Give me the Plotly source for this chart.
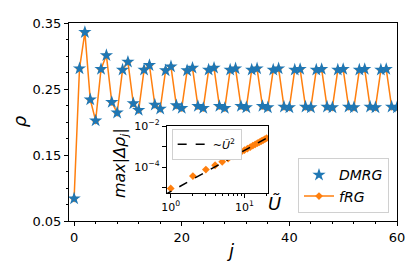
import plotly.graph_objects as go

# ---------------- data ----------------
j_sites = list(range(61))
rho_frg = [0.084, 0.281, 0.336, 0.234, 0.202, 0.280, 0.301, 0.230, 0.214, 0.279,
           0.291, 0.228, 0.218, 0.279, 0.286, 0.226, 0.220, 0.278, 0.284, 0.225,
           0.221, 0.278, 0.282, 0.224, 0.221, 0.279, 0.282, 0.224, 0.221, 0.279,
           0.281, 0.224, 0.222, 0.279, 0.281, 0.224, 0.222, 0.279, 0.281, 0.223,
           0.222, 0.279, 0.280, 0.223, 0.222, 0.279, 0.280, 0.223, 0.222, 0.279,
           0.280, 0.223, 0.222, 0.279, 0.280, 0.223, 0.222, 0.279, 0.280, 0.223,
           0.222]
rho_dmrg = [0.084, 0.281, 0.336, 0.234, 0.202, 0.280, 0.301, 0.230, 0.214, 0.279,
            0.291, 0.228, 0.218, 0.279, 0.286, 0.226, 0.220, 0.278, 0.284, 0.225,
            0.221, 0.278, 0.282, 0.224, 0.221, 0.279, 0.282, 0.224, 0.221, 0.279,
            0.281, 0.224, 0.222, 0.279, 0.281, 0.224, 0.222, 0.279, 0.281, 0.223,
            0.222, 0.279, 0.280, 0.223, 0.222, 0.279, 0.280, 0.223, 0.222, 0.279,
            0.280, 0.223, 0.222, 0.279, 0.280, 0.223, 0.222, 0.279, 0.280, 0.223,
            0.222]

U_vals = list(range(1, 21))
max_drho = [9.3e-6, 3.7e-5, 7.7e-5, 1.25e-4, 1.85e-4, 2.6e-4, 3.4e-4, 4.4e-4, 5.5e-4, 6.8e-4,
            8.1e-4, 9.6e-4, 1.12e-3, 1.3e-3, 1.48e-3, 1.68e-3, 1.89e-3, 2.1e-3, 2.35e-3, 2.6e-3]
ref_U = [0.8, 25]
ref_line = [4.2e-6, 4.1e-3]

x_ticks = [0, 20, 40, 60]
y_ticks = [0.05, 0.15, 0.25, 0.35]
y_ticktext = ["0.05", "0.15", "0.25", "0.35"]

BLUE = "#1f77b4"
ORANGE = "#ff7f0e"
FONT = "DejaVu Sans"

fig = go.Figure()

fig.add_trace(go.Scatter(
    x=j_sites, y=rho_frg, mode="lines+markers", name="<i>fRG</i>",
    line=dict(color=ORANGE, width=1.5),
    marker=dict(symbol="diamond", size=6, color=ORANGE),
    legendrank=2, xaxis="x", yaxis="y"))
fig.add_trace(go.Scatter(
    x=j_sites, y=rho_dmrg, mode="markers", name="<i>DMRG</i>",
    marker=dict(symbol="star", size=10, color=BLUE),
    legendrank=1, xaxis="x", yaxis="y"))

# inset
fig.add_trace(go.Scatter(
    x=U_vals, y=max_drho, mode="markers", showlegend=False,
    marker=dict(symbol="diamond", size=6, color=ORANGE),
    xaxis="x2", yaxis="y2"))
fig.add_trace(go.Scatter(
    x=ref_U, y=ref_line, mode="lines", name="~<i>Ũ</i><sup>2</sup>",
    line=dict(color="black", width=1.5, dash="dash"),
    legend="legend2", xaxis="x2", yaxis="y2"))

axis_common = dict(showline=True, linecolor="black", linewidth=1, mirror=True,
                   showgrid=False, zeroline=False, ticks="outside", tickcolor="black",
                   ticklen=4, tickwidth=1)

# the page body adds an 8px offset; compensate so the plot area lands at x 69-397, y 15-221
fig.update_layout(
    width=407, height=269,
    margin=dict(l=61, r=18, t=7, b=56),
    paper_bgcolor="white", plot_bgcolor="white",
    font=dict(family=FONT, size=13, color="black"),
    xaxis=dict(range=[-0.95, 60], tickvals=x_ticks, domain=[0, 1],
               minor=dict(dtick=4, tick0=0, ticks="outside", ticklen=2, tickcolor="black"),
               tickfont=dict(size=13), **axis_common),
    yaxis=dict(range=[0.05, 0.35], tickvals=y_ticks, ticktext=y_ticktext, domain=[0, 1],
               minor=dict(dtick=0.025, tick0=0.05, ticks="outside", ticklen=2, tickcolor="black"),
               tickfont=dict(size=13), **axis_common),
    xaxis2=dict(type="log", range=[-0.054, 1.324], anchor="y2", domain=[0.298, 0.6076],
                tickvals=[1, 10], ticktext=["10<sup>0</sup>", "10<sup>1</sup>"],
                minor=dict(tickmode="array", tickvals=[2, 3, 4, 5, 6, 7, 8, 9, 20],
                           ticks="outside", ticklen=2, tickcolor="black"),
                tickfont=dict(size=11), **axis_common),
    yaxis2=dict(type="log", range=[-5.25, -2.0], anchor="x2", domain=[0.142, 0.479],
                tickvals=[1e-4, 1e-2],
                ticktext=["10<sup>−4</sup>", "10<sup>−2</sup>"],
                minor=dict(tickmode="array", tickvals=[1e-5, 1e-3],
                           ticks="outside", ticklen=4, tickcolor="black"),
                tickfont=dict(size=11), **axis_common),
    legend=dict(x=0.9756, y=0.039, xanchor="right", yanchor="bottom",
                bgcolor="white", bordercolor="#d0d0d0", borderwidth=1,
                font=dict(size=14), tracegroupgap=0, itemwidth=30),
    legend2=dict(x=0.313, y=0.466, xanchor="left", yanchor="top",
                 bgcolor="white", bordercolor="#d0d0d0", borderwidth=1,
                 font=dict(size=11), itemwidth=30),
    annotations=[
        dict(text="<i>j</i>", x=0.491, y=-0.150, xref="paper", yref="paper",
             showarrow=False, font=dict(size=18), xanchor="center", yanchor="middle"),
        dict(text="<i>ρ</i>", x=-0.152, y=0.505, xref="paper", yref="paper",
             showarrow=False, font=dict(size=18), textangle=-90,
             xanchor="center", yanchor="middle"),
        dict(text="<i>max</i>|<i>Δρ<sub>j</sub></i>|", x=0.157, y=0.295, xref="paper", yref="paper",
             showarrow=False, font=dict(size=16), textangle=-90,
             xanchor="center", yanchor="middle"),
        dict(text="<i>Ũ</i>", x=0.628, y=0.087, xref="paper", yref="paper",
             showarrow=False, font=dict(size=18), xanchor="center", yanchor="middle"),
    ],
)

fig.write_html("out.html")
